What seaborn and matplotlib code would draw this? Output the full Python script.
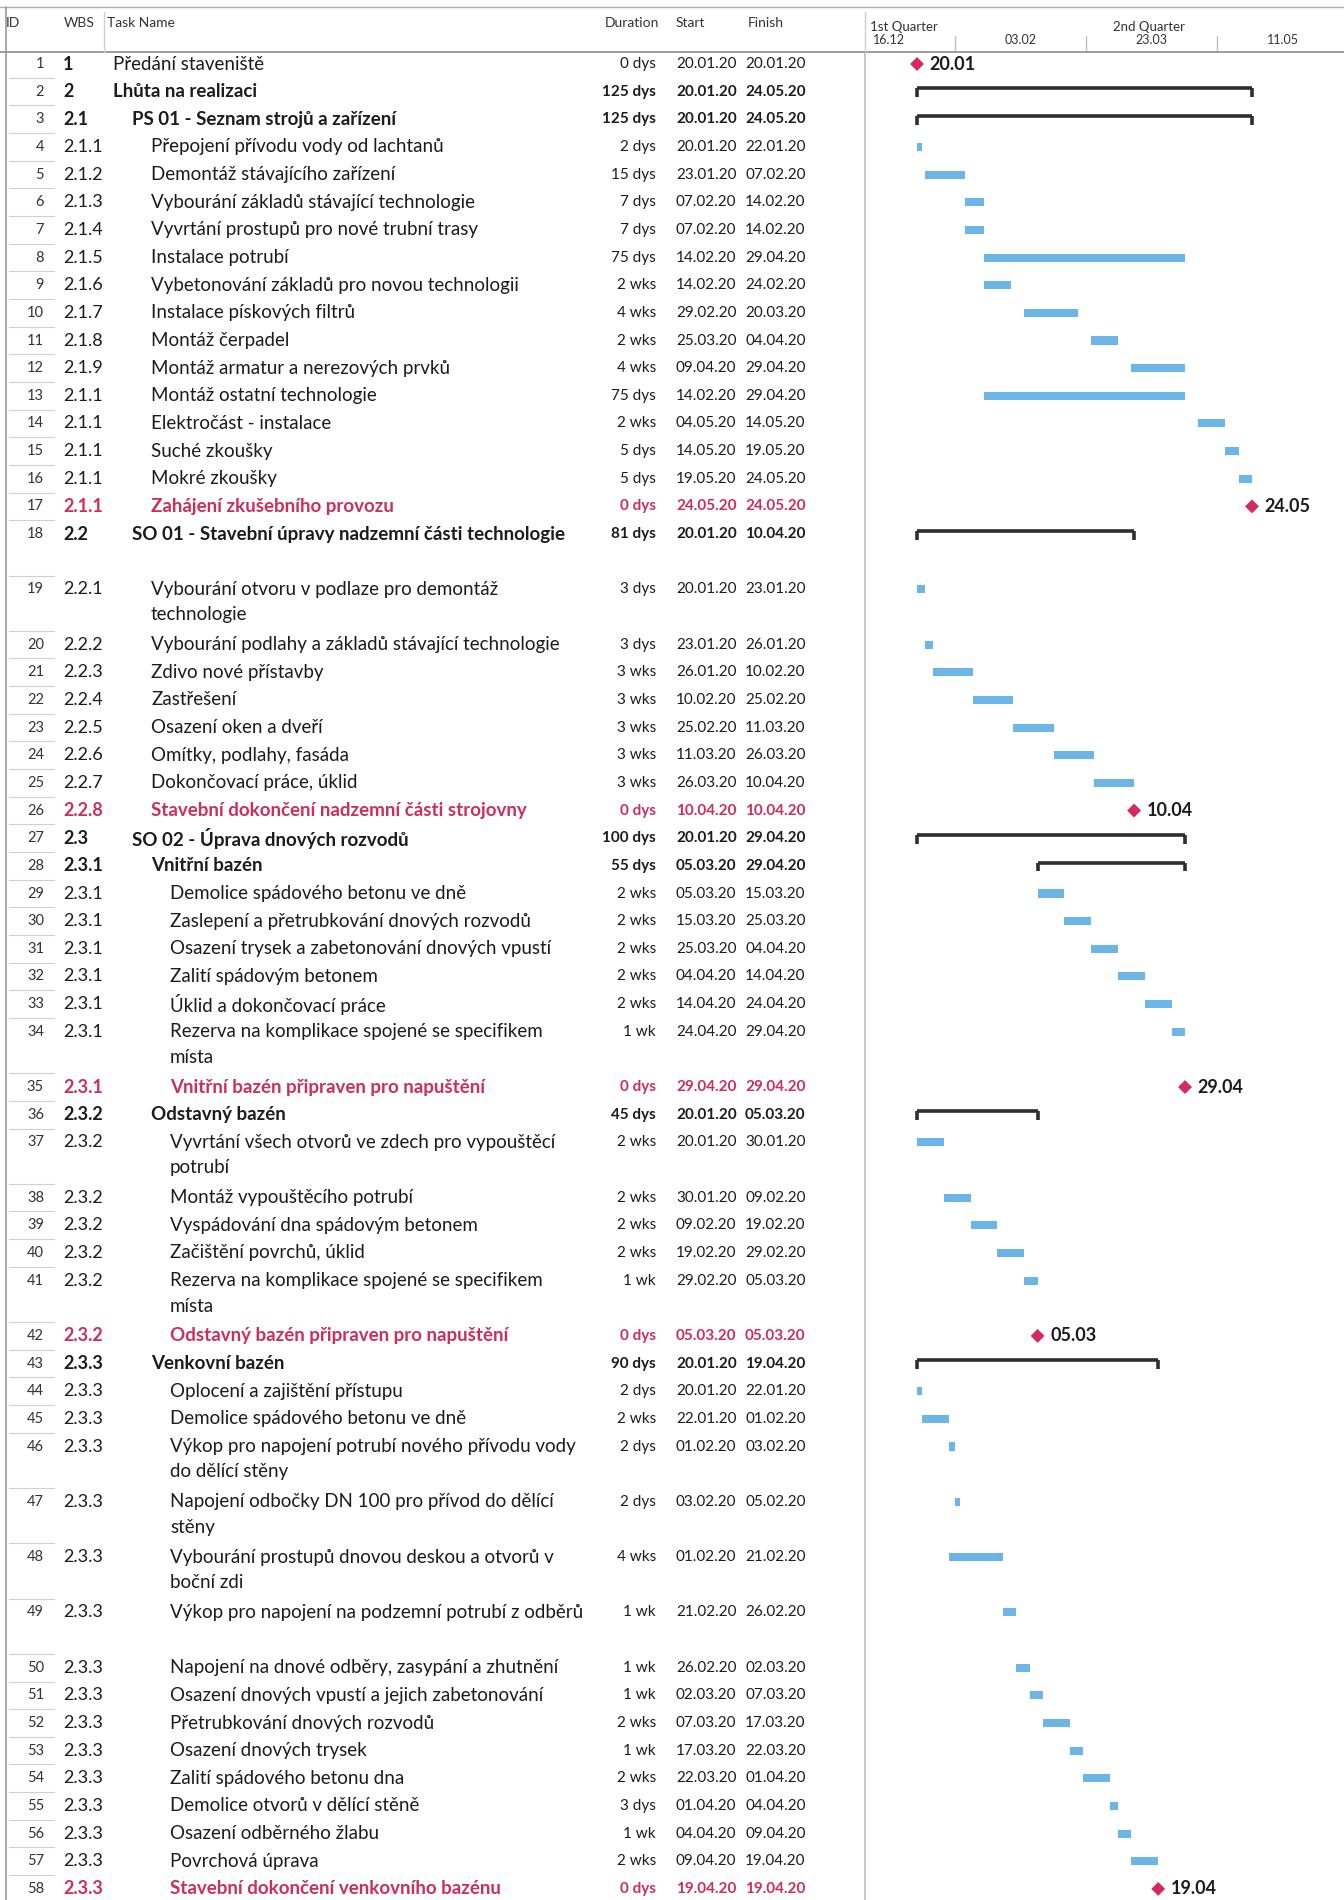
import numpy as np
import pandas as pd
import matplotlib
matplotlib.use("Agg")
import matplotlib.pyplot as plt
import matplotlib.dates as mdates
import matplotlib.transforms as mtransforms
import seaborn as sns

# ---- data ----
wbs = [
    "1", "2", "2.1", "2.1.1", "2.1.2", "2.1.3", "2.1.4", "2.1.5", "2.1.6", "2.1.7",
    "2.1.8", "2.1.9", "2.1.1", "2.1.1", "2.1.1", "2.1.1", "2.1.1", "2.2", "2.2.1", "2.2.2",
    "2.2.3", "2.2.4", "2.2.5", "2.2.6", "2.2.7", "2.2.8", "2.3", "2.3.1", "2.3.1", "2.3.1",
    "2.3.1", "2.3.1", "2.3.1", "2.3.1", "2.3.1", "2.3.2", "2.3.2", "2.3.2", "2.3.2", "2.3.2",
    "2.3.2", "2.3.2", "2.3.3", "2.3.3", "2.3.3", "2.3.3", "2.3.3", "2.3.3", "2.3.3", "2.3.3",
    "2.3.3", "2.3.3", "2.3.3", "2.3.3", "2.3.3", "2.3.3", "2.3.3", "2.3.3",
]
names = [
    "Předání staveniště",
    "Lhůta na realizaci",
    "PS 01 - Seznam strojů a zařízení",
    "Přepojení přívodu vody od lachtanů",
    "Demontáž stávajícího zařízení",
    "Vybourání základů stávající technologie",
    "Vyvrtání prostupů pro nové trubní trasy",
    "Instalace potrubí",
    "Vybetonování základů pro novou technologii",
    "Instalace pískových filtrů",
    "Montáž čerpadel",
    "Montáž armatur a nerezových prvků",
    "Montáž ostatní technologie",
    "Elektročást - instalace",
    "Suché zkoušky",
    "Mokré zkoušky",
    "Zahájení zkušebního provozu",
    "SO 01 - Stavební úpravy nadzemní části technologie",
    "Vybourání otvoru v podlaze pro demontáž\ntechnologie",
    "Vybourání podlahy a základů stávající technologie",
    "Zdivo nové přístavby",
    "Zastřešení",
    "Osazení oken a dveří",
    "Omítky, podlahy, fasáda",
    "Dokončovací práce, úklid",
    "Stavební dokončení nadzemní části strojovny",
    "SO 02 - Úprava dnových rozvodů",
    "Vnitřní bazén",
    "Demolice spádového betonu ve dně",
    "Zaslepení a přetrubkování dnových rozvodů",
    "Osazení trysek a zabetonování dnových vpustí",
    "Zalití spádovým betonem",
    "Úklid a dokončovací práce",
    "Rezerva na komplikace spojené se specifikem\nmísta",
    "Vnitřní bazén připraven pro napuštění",
    "Odstavný bazén",
    "Vyvrtání všech otvorů ve zdech pro vypouštěcí\npotrubí",
    "Montáž vypouštěcího potrubí",
    "Vyspádování dna spádovým betonem",
    "Začištění povrchů, úklid",
    "Rezerva na komplikace spojené se specifikem\nmísta",
    "Odstavný bazén připraven pro napuštění",
    "Venkovní bazén",
    "Oplocení a zajištění přístupu",
    "Demolice spádového betonu ve dně",
    "Výkop pro napojení potrubí nového přívodu vody\ndo dělící stěny",
    "Napojení odbočky DN 100 pro přívod do dělící\nstěny",
    "Vybourání prostupů dnovou deskou a otvorů v\nboční zdi",
    "Výkop pro napojení na podzemní potrubí z odběrů",
    "Napojení na dnové odběry, zasypání a zhutnění",
    "Osazení dnových vpustí a jejich zabetonování",
    "Přetrubkování dnových rozvodů",
    "Osazení dnových trysek",
    "Zalití spádového betonu dna",
    "Demolice otvorů v dělící stěně",
    "Osazení odběrného žlabu",
    "Povrchová úprava",
    "Stavební dokončení venkovního bazénu",
]
levels = [0, 0, 1] + [2] * 14 + [1] + [2] * 8 + [1, 2] + [3] * 7 + [2] + [3] * 6 + [2] + [3] * 15
durations = [
    "0 dys", "125 dys", "125 dys", "2 dys", "15 dys", "7 dys", "7 dys", "75 dys", "2 wks", "4 wks",
    "2 wks", "4 wks", "75 dys", "2 wks", "5 dys", "5 dys", "0 dys", "81 dys", "3 dys", "3 dys",
    "3 wks", "3 wks", "3 wks", "3 wks", "3 wks", "0 dys", "100 dys", "55 dys", "2 wks", "2 wks",
    "2 wks", "2 wks", "2 wks", "1 wk", "0 dys", "45 dys", "2 wks", "2 wks", "2 wks", "2 wks",
    "1 wk", "0 dys", "90 dys", "2 dys", "2 wks", "2 dys", "2 dys", "4 wks", "1 wk", "1 wk",
    "1 wk", "2 wks", "1 wk", "2 wks", "3 dys", "1 wk", "2 wks", "0 dys",
]
starts = [
    "20.01.20", "20.01.20", "20.01.20", "20.01.20", "23.01.20", "07.02.20", "07.02.20", "14.02.20", "14.02.20", "29.02.20",
    "25.03.20", "09.04.20", "14.02.20", "04.05.20", "14.05.20", "19.05.20", "24.05.20", "20.01.20", "20.01.20", "23.01.20",
    "26.01.20", "10.02.20", "25.02.20", "11.03.20", "26.03.20", "10.04.20", "20.01.20", "05.03.20", "05.03.20", "15.03.20",
    "25.03.20", "04.04.20", "14.04.20", "24.04.20", "29.04.20", "20.01.20", "20.01.20", "30.01.20", "09.02.20", "19.02.20",
    "29.02.20", "05.03.20", "20.01.20", "20.01.20", "22.01.20", "01.02.20", "03.02.20", "01.02.20", "21.02.20", "26.02.20",
    "02.03.20", "07.03.20", "17.03.20", "22.03.20", "01.04.20", "04.04.20", "09.04.20", "19.04.20",
]
finishes = [
    "20.01.20", "24.05.20", "24.05.20", "22.01.20", "07.02.20", "14.02.20", "14.02.20", "29.04.20", "24.02.20", "20.03.20",
    "04.04.20", "29.04.20", "29.04.20", "14.05.20", "19.05.20", "24.05.20", "24.05.20", "10.04.20", "23.01.20", "26.01.20",
    "10.02.20", "25.02.20", "11.03.20", "26.03.20", "10.04.20", "10.04.20", "29.04.20", "29.04.20", "15.03.20", "25.03.20",
    "04.04.20", "14.04.20", "24.04.20", "29.04.20", "29.04.20", "05.03.20", "30.01.20", "09.02.20", "19.02.20", "29.02.20",
    "05.03.20", "05.03.20", "19.04.20", "22.01.20", "01.02.20", "03.02.20", "05.02.20", "21.02.20", "26.02.20", "02.03.20",
    "07.03.20", "17.03.20", "22.03.20", "01.04.20", "04.04.20", "09.04.20", "19.04.20", "19.04.20",
]
# m = milestone, s = summary, t = task
kinds = [
    "m", "s", "s", "t", "t", "t", "t", "t", "t", "t",
    "t", "t", "t", "t", "t", "t", "m", "s", "t", "t",
    "t", "t", "t", "t", "t", "m", "s", "s", "t", "t",
    "t", "t", "t", "t", "m", "s", "t", "t", "t", "t",
    "t", "m", "s", "t", "t", "t", "t", "t", "t", "t",
    "t", "t", "t", "t", "t", "t", "t", "m",
]
tall_rows = [18, 19, 34, 37, 41, 46, 47, 48, 49]

quarter_labels = ["1st Quarter", "2nd Quarter"]
quarter_starts = ["01.01.20", "01.04.20"]
period_starts = ["16.12.19", "03.02.20", "23.03.20", "11.05.20"]

# ---- layout ----
W, H = 1344, 1900
TOP = 52          # header bottom in px
UNIT = 27.65      # row height in px
GANTT_X = 865
FONT = ["Lato", "DejaVu Sans"]
TXT = "#1c1c1c"
RED = "#cc2f5a"
GREY = "#9a9a9a"
BLUE = "#6bb6e6"

sns.set_theme(style="white")
plt.rcParams["font.family"] = FONT

df = pd.DataFrame({
    "id": range(1, len(names) + 1), "wbs": wbs, "name": names, "level": levels,
    "dur": durations, "start": starts, "finish": finishes, "kind": kinds,
})
df["start_dt"] = pd.to_datetime(df["start"], format="%d.%m.%y")
df["finish_dt"] = pd.to_datetime(df["finish"], format="%d.%m.%y")
heights = np.where(df["id"].isin(tall_rows), 2, 1)
df["y"] = np.concatenate([[0], np.cumsum(heights)[:-1]])

y_top = -12 / UNIT
y_bot = y_top + (H - TOP) / UNIT

fig = plt.figure(figsize=(W / 100, H / 100), dpi=100)
ax_t = fig.add_axes([0, 0, GANTT_X / W, (H - TOP) / H])
ax_g = fig.add_axes([GANTT_X / W, 0, (W - GANTT_X) / W, (H - TOP) / H])
ax_t.set_xlim(0, GANTT_X)

t0 = pd.Timestamp("2020-01-20")
px_day = 2.68
ax_g.set_xlim(t0 - pd.Timedelta(days=(917 - GANTT_X) / px_day),
              t0 + pd.Timedelta(days=(W - 917) / px_day))

# ---- table ----
for _, r in df.iterrows():
    red = r["kind"] == "m" and r["id"] > 1
    bold = r["kind"] == "s" or red
    color = RED if red else TXT
    w = "bold" if bold else "normal"
    y = r["y"]
    ax_t.text(44, y, str(r["id"]), ha="right", va="center", fontsize=10.5, color="#333333")
    ax_t.text(63, y, r["wbs"], ha="left", va="center", fontsize=13, color=color,
              fontweight="bold" if (bold or r["id"] == 1) else "normal")
    for j, line in enumerate(r["name"].split("\n")):
        ax_t.text(113 + 19 * r["level"], y + j * 0.92, line, ha="left", va="center",
                  fontsize=13.5, color=color, fontweight=w)
    ax_t.text(656, y, r["dur"], ha="right", va="center", fontsize=11, color=color, fontweight=w)
    ax_t.text(676, y, r["start"], ha="left", va="center", fontsize=11, color=color, fontweight=w)
    ax_t.text(745, y, r["finish"], ha="left", va="center", fontsize=11, color=color, fontweight=w)
    ax_t.plot([9, 54], [y - 0.5, y - 0.5], color="#d0d0d0", lw=0.8)

ax_t.axvline(6, color=GREY, lw=1.2)
ax_g.plot([0, 0], [0, 1], transform=ax_g.transAxes, color="#bdbdbd", lw=1.2, clip_on=False)

# ---- gantt ----
tasks = df[df["kind"] == "t"]
ax_g.barh(tasks["y"], tasks["finish_dt"] - tasks["start_dt"], left=tasks["start_dt"],
          height=0.29, color=BLUE, edgecolor="none")

summ = df[df["kind"] == "s"]
ax_g.hlines(summ["y"] - 0.12, summ["start_dt"], summ["finish_dt"], color="#2e2e2e", lw=2.6)
for _, r in summ.iterrows():
    ax_g.vlines([r["start_dt"], r["finish_dt"]], r["y"] - 0.12, r["y"] + 0.2, color="#2e2e2e", lw=2.6)

miles = df[df["kind"] == "m"]
sns.scatterplot(data=miles, x="finish_dt", y="y", marker="D", s=50, color="#d42b5c",
                edgecolor="none", ax=ax_g, legend=False, zorder=4)
for _, r in miles.iterrows():
    ax_g.annotate(r["finish_dt"].strftime("%d.%m"), (r["finish_dt"], r["y"]),
                  xytext=(9, 0), textcoords="offset points", ha="left", va="center",
                  fontsize=13, fontweight="bold", color=TXT)
for a in (ax_t, ax_g):
    a.set_ylim(y_bot, y_top)
    a.axis("off")

# ---- header ----
def fy(px):
    return 1 - px / H

fig.add_artist(plt.Line2D([0, 1], [fy(7), fy(7)], color="#b0b0b0", lw=1.0))
fig.add_artist(plt.Line2D([0, 1], [fy(TOP), fy(TOP)], color="#8c8c8c", lw=1.2))
fig.add_artist(plt.Line2D([6 / W, 6 / W], [fy(7), fy(TOP)], color=GREY, lw=1.2))
fig.add_artist(plt.Line2D([104 / W, 104 / W], [fy(12), fy(TOP)], color="#cfcfcf", lw=1.0))
fig.add_artist(plt.Line2D([GANTT_X / W, GANTT_X / W], [fy(12), fy(TOP)], color="#cfcfcf", lw=1.0))
for x, lab in [(6, "ID"), (64, "WBS"), (107, "Task Name"), (605, "Duration"), (676, "Start"), (748, "Finish")]:
    fig.text(x / W, fy(23), lab, ha="left", va="center", fontsize=10, color="#333333")

hdr = mtransforms.blended_transform_factory(ax_g.transData, fig.transFigure)
x_left = ax_g.get_xlim()[0]
for lab, qs in zip(quarter_labels, quarter_starts):
    q = pd.to_datetime(qs, format="%d.%m.%y")
    qx = max(mdates.date2num(q), x_left + 0.8)
    ax_g.text(qx + 1.2, fy(27), lab, transform=hdr, ha="left", va="center",
              fontsize=9.5, color="#333333", clip_on=False)
for ps in period_starts:
    p = pd.to_datetime(ps, format="%d.%m.%y")
    c = mdates.date2num(p + pd.Timedelta(days=24.5))
    ax_g.text(c, fy(40), p.strftime("%d.%m"), transform=hdr, ha="center", va="center",
              fontsize=9, color="#333333", clip_on=False)
    b = mdates.date2num(p)
    if b > x_left:
        ax_g.plot([b, b], [fy(36), fy(TOP)], transform=hdr, color="#c0c0c0", lw=1.0, clip_on=False)

fig.savefig("out.png", dpi=100, facecolor="white")
